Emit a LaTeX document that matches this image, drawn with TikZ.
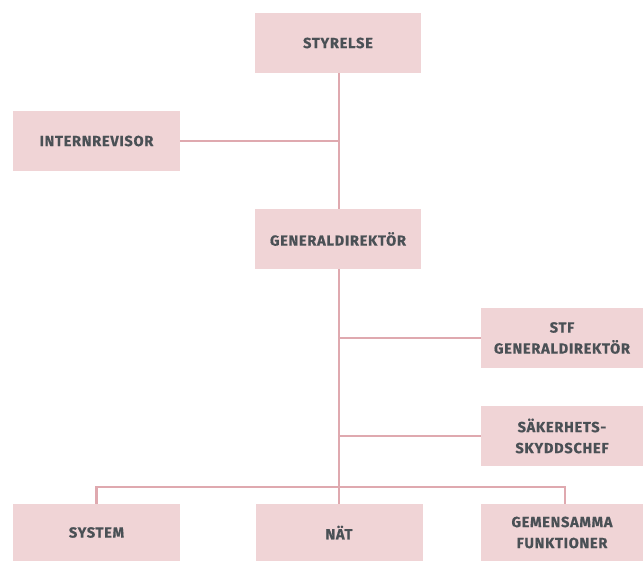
\documentclass[tikz,border=0pt]{standalone}
\usepackage{fontspec}
\setmainfont{Fira Sans}[LetterSpace=5, BoldFeatures={FakeBold=0.6}]
\definecolor{boxfill}{HTML}{F0D4D6}
\definecolor{linecol}{HTML}{DFA9AF}
\definecolor{textcol}{HTML}{4A5055}
\begin{document}
\begin{tikzpicture}[x=1pt,y=-1pt,
  orgbox/.style={fill=boxfill, draw=none, text=textcol, align=center,
    font=\fontsize{14.6}{21}\selectfont\bfseries, inner sep=0pt},
  conn/.style={draw=linecol, line width=2.8pt}]
\useasboundingbox (0,0) rectangle (643,561);
\node[orgbox, minimum width=166, minimum height=60] (sty) at (338,43) {STYRELSE};
\node[orgbox, minimum width=167, minimum height=60] (int) at (96.5,141) {INTERNREVISOR};
\node[orgbox, minimum width=166, minimum height=60] (gd) at (338,239) {GENERALDIREKTÖR};
\node[orgbox, minimum width=162, minimum height=60] (stf) at (562,338) {STF\\GENERALDIREKTÖR};
\node[orgbox, minimum width=162, minimum height=60] (sak) at (562,436) {SÄKERHETS-\\SKYDDSCHEF};
\node[orgbox, minimum width=167, minimum height=57] (sys) at (96.5,532.5) {SYSTEM};
\node[orgbox, minimum width=167, minimum height=57] (nat) at (339,532.5) {NÄT};
\node[orgbox, minimum width=162, minimum height=57] (gem) at (562,532.5) {GEMENSAMMA\\FUNKTIONER};
\coordinate (bar) at (339,487);
\coordinate (barL) at (96.5,487);
\coordinate (barR) at (565,487);
\draw[conn] (sty.south -| bar) -- (gd.north -| bar);
\draw[conn] (int.east) -- (int.east -| bar);
\draw[conn] (gd.south -| bar) -- (nat.north -| bar);
\draw[conn] (stf.west) -- (stf.west -| bar);
\draw[conn] (sak.west) -- (sak.west -| bar);
\draw[conn] (sys.north -| barL) -- (barL) -- (barR) -- (gem.north -| barR);
\end{tikzpicture}
\end{document}
